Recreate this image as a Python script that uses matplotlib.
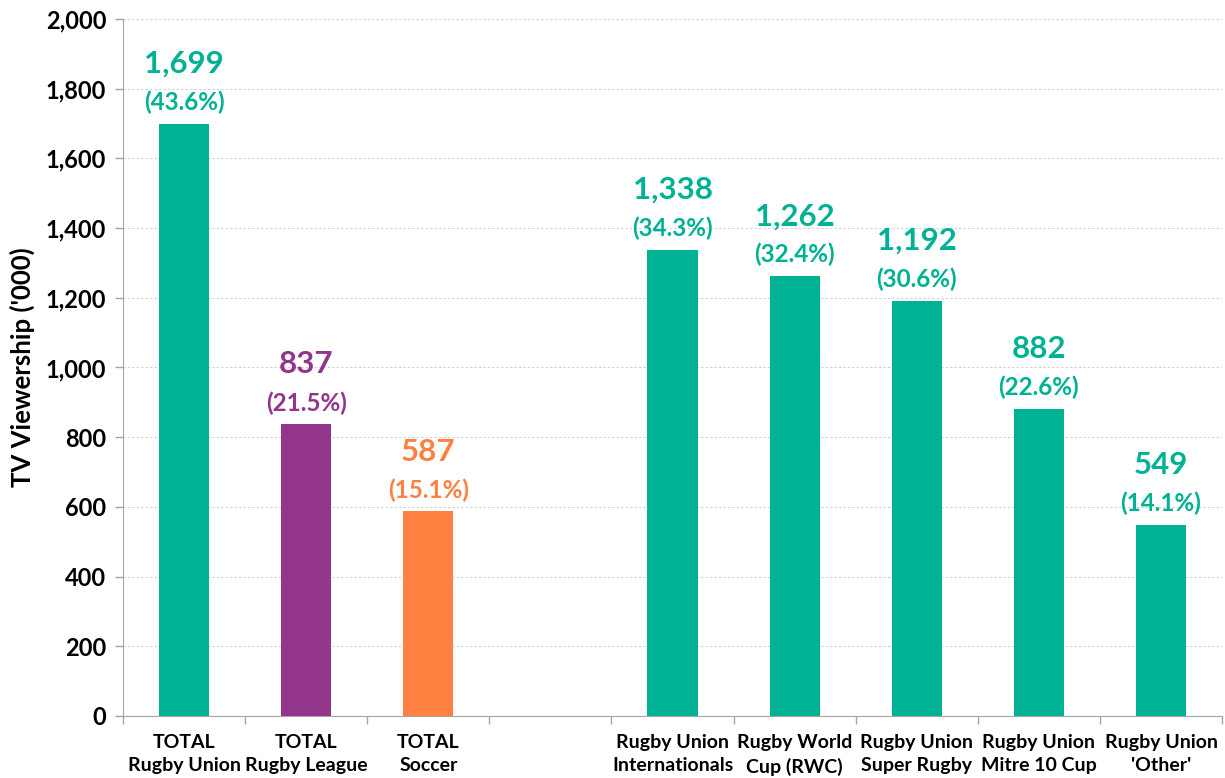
import matplotlib
matplotlib.use("Agg")
import matplotlib.pyplot as plt
import numpy as np

categories = ["TOTAL\nRugby Union", "TOTAL\nRugby League", "TOTAL\nSoccer", "",
              "Rugby Union\nInternationals", "Rugby World\nCup (RWC)", "Rugby Union\nSuper Rugby",
              "Rugby Union\nMitre 10 Cup", "Rugby Union\n'Other'"]
values = [1699, 837, 587, None, 1338, 1262, 1192, 882, 549]
percents = ["43.6%", "21.5%", "15.1%", None, "34.3%", "32.4%", "30.6%", "22.6%", "14.1%"]
TEAL = "#00B294"
PURPLE = "#92358B"
ORANGE = "#FF8040"
colors = [TEAL, PURPLE, ORANGE, None, TEAL, TEAL, TEAL, TEAL, TEAL]

plt.rcParams['font.family'] = ['Lato', 'DejaVu Sans']

fig = plt.figure(figsize=(12.25, 7.78), dpi=100)
ax = fig.add_axes([0.1004, 0.0797, 0.8972, 0.8959])

x = np.arange(len(categories))
for i, (v, c, p) in enumerate(zip(values, colors, percents)):
    if v is None:
        continue
    ax.bar(x[i], v, width=0.41, color=c, zorder=3)
    ax.annotate(f"({p})", (x[i], v), xytext=(0, 7), textcoords="offset points",
                ha="center", va="bottom", color=c, fontsize=17.5, fontweight="bold")
    ax.annotate(f"{v:,}", (x[i], v), xytext=(0, 33), textcoords="offset points",
                ha="center", va="bottom", color=c, fontsize=22.5, fontweight="bold")

ax.set_xlim(-0.5, len(categories) - 0.5)
ax.set_ylim(0, 2000)
ax.set_yticks(np.arange(0, 2001, 200))
ax.yaxis.set_major_formatter(matplotlib.ticker.FuncFormatter(lambda v, _: f"{int(v):,}"))
ax.tick_params(axis="y", labelsize=17, length=6, color="#A6A6A6", width=1, pad=6)
for lab in ax.get_yticklabels():
    lab.set_fontweight("bold")

ax.set_xticks(x)
ax.set_xticklabels(categories, fontsize=14, fontweight="bold", linespacing=1.45)
ax.tick_params(axis="x", length=0, pad=13)
ax.set_xticks(np.arange(-0.5, len(categories)), minor=True)
ax.tick_params(axis="x", which="minor", length=6, color="#A6A6A6", width=1)

ax.grid(axis="y", color="#CFCFCF", linestyle=(0, (2, 2)), linewidth=0.8, zorder=0)
for s in ["top", "right"]:
    ax.spines[s].set_visible(False)
ax.spines["left"].set_color("#A6A6A6")
ax.spines["bottom"].set_color("#A6A6A6")

ax.set_ylabel("TV Viewership ('000)", fontsize=18.5, fontweight="bold", labelpad=8)

fig.savefig("out.png", dpi=100)
